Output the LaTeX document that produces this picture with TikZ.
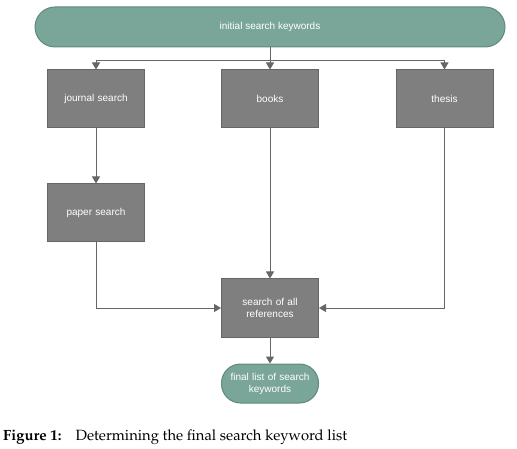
\documentclass[tikz,border=0pt]{standalone}
\usepackage[T1,TU]{fontenc}
\usepackage{fontspec}
\setsansfont{Liberation Sans}
\usetikzlibrary{arrows.meta}
\definecolor{teal1}{HTML}{7AA699}
\definecolor{teal2}{HTML}{5E8A7E}
\definecolor{grayfill}{HTML}{7F7F7F}
\definecolor{grayline}{HTML}{666666}
\tikzset{
  graybox/.style={draw=grayline, line width=1pt, fill=grayfill, minimum width=97pt, minimum height=58pt,
    text=white, font=\sffamily\fontsize{10}{12}\selectfont, align=center, inner sep=0pt, text width=85pt},
  terminal/.style={draw=teal2, line width=1pt, fill=teal1, text=white,
    font=\sffamily\fontsize{10}{12}\selectfont, align=center, inner sep=0pt},
  conn/.style={draw=grayline, line width=1pt, -{Triangle[length=7pt,width=8pt]}},
}
\begin{document}
\begin{tikzpicture}[x=1pt,y=-1pt]
\useasboundingbox (0,0) rectangle (517,449);
\node[terminal, minimum width=470pt, minimum height=40pt, rounded corners=20pt] (start) at (270,27) {initial search keywords};
\node[graybox] (journal) at (96,99) {journal search};
\node[graybox] (books) at (270,99) {books};
\node[graybox] (thesis) at (444.5,99) {thesis};
\node[graybox] (paper) at (96,213) {paper search};
\node[graybox] (all) at (270,308) {search of all\\references};
\node[terminal, minimum width=97pt, minimum height=39pt, rounded corners=19pt, text width=90pt] (final) at (270,383.5) {final list of search\\keywords};
\coordinate (branch) at (270,61);
\draw[conn] (start.south) -- (books.north);
\draw[conn] (branch) -| (journal.north);
\draw[conn] (branch) -| (thesis.north);
\draw[conn] (journal) -- (paper);
\draw[conn] (paper.south) |- (all.west);
\draw[conn] (thesis.south) |- (all.east);
\draw[conn] (books) -- (all);
\draw[conn] (all) -- (final);
\node[anchor=base west, inner sep=0pt, font=\fontencoding{T1}\fontfamily{ppl}\fontsize{14.8}{17}\selectfont] (cap) at (3,440.7)
  {{\bfseries Figure 1:}\hspace{14pt}Determining the final search keyword list};
\end{tikzpicture}
\end{document}
